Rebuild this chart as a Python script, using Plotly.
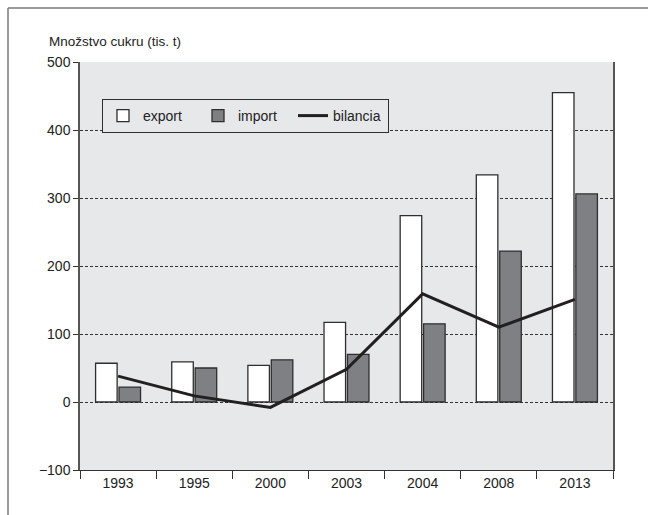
import plotly.graph_objects as go

# Sugar trade: export, import and balance (thousand tonnes)
years = ["1993", "1995", "2000", "2003", "2004", "2008", "2013"]
export_vals = [57, 59, 54, 117, 274, 334, 455]
import_vals = [22, 50, 62, 70, 115, 222, 306]
bilancia_vals = [38, 9, -8, 48, 159, 110, 151]
y_ticks = [-100, 0, 100, 200, 300, 400, 500]

FONT = "Liberation Sans, Arial, sans-serif"
PLOT_BG = "#e7e8ea"
EDGE = "#2e2e2e"
TEXT = "#222"

fig = go.Figure()
fig.add_trace(go.Bar(
    x=years, y=export_vals, name="export",
    marker=dict(color="white", line=dict(color=EDGE, width=1.3)),
))
fig.add_trace(go.Bar(
    x=years, y=import_vals, name="import",
    marker=dict(color="#7f8083", line=dict(color=EDGE, width=1.3)),
))
fig.add_trace(go.Scatter(
    x=years, y=bilancia_vals, name="bilancia", mode="lines",
    line=dict(color="#231f20", width=3),
))

# plot area in pixels: left 80, right 613, top 62, bottom 470
L, R, T, B = 80, 613, 62, 470
W, H = 648, 515
pw, ph = R - L, B - T


def px_x(x):
    return (x - L) / pw


def px_y(y):
    return (B - y) / ph


fig.update_layout(
    width=W, height=H,
    margin=dict(l=L, r=W - R, t=T, b=H - B, pad=0),
    paper_bgcolor="white",
    plot_bgcolor=PLOT_BG,
    font=dict(family=FONT, size=14, color=TEXT),
    barmode="group",
    bargap=0.385,
    bargroupgap=0.08,
    showlegend=True,
    legend=dict(
        orientation="h",
        x=px_x(102), y=px_y(99), xanchor="left", yanchor="top",
        bgcolor=PLOT_BG, bordercolor=EDGE, borderwidth=1,
        font=dict(family=FONT, size=14, color=TEXT),
        itemwidth=30,
        entrywidth=50,
        traceorder="normal",
    ),
    xaxis=dict(
        type="category",
        tickson="boundaries",
        ticks="outside", ticklen=8, tickcolor="#333", tickwidth=1,
        showline=True, linecolor="#333", linewidth=1,
        showgrid=False, zeroline=False,
        tickfont=dict(family=FONT, size=14, color=TEXT),
    ),
    yaxis=dict(
        range=[-100, 500],
        tickvals=y_ticks,
        ticks="outside", ticklen=5, tickcolor="#333", tickwidth=1,
        showline=True, linecolor="#555", linewidth=1.5, mirror=True,
        showgrid=True, gridcolor="#333", gridwidth=1, griddash="3px,2px",
        zeroline=False,
        tickfont=dict(family=FONT, size=14, color=TEXT),
    ),
    annotations=[dict(
        text="Množstvo cukru (tis. t)",
        xref="paper", yref="paper",
        x=px_x(47), y=px_y(42), xanchor="left", yanchor="middle",
        showarrow=False,
        font=dict(family=FONT, size=13.5, color=TEXT),
    )],
    shapes=[
        dict(type="line", xref="paper", yref="paper",
             x0=px_x(8), x1=px_x(660), y0=px_y(8), y1=px_y(8),
             line=dict(color="#7a7a7a", width=1.5)),
        dict(type="line", xref="paper", yref="paper",
             x0=px_x(8), x1=px_x(8), y0=px_y(8), y1=px_y(530),
             line=dict(color="#7a7a7a", width=1.5)),
    ],
)

fig.write_html("out.html")
